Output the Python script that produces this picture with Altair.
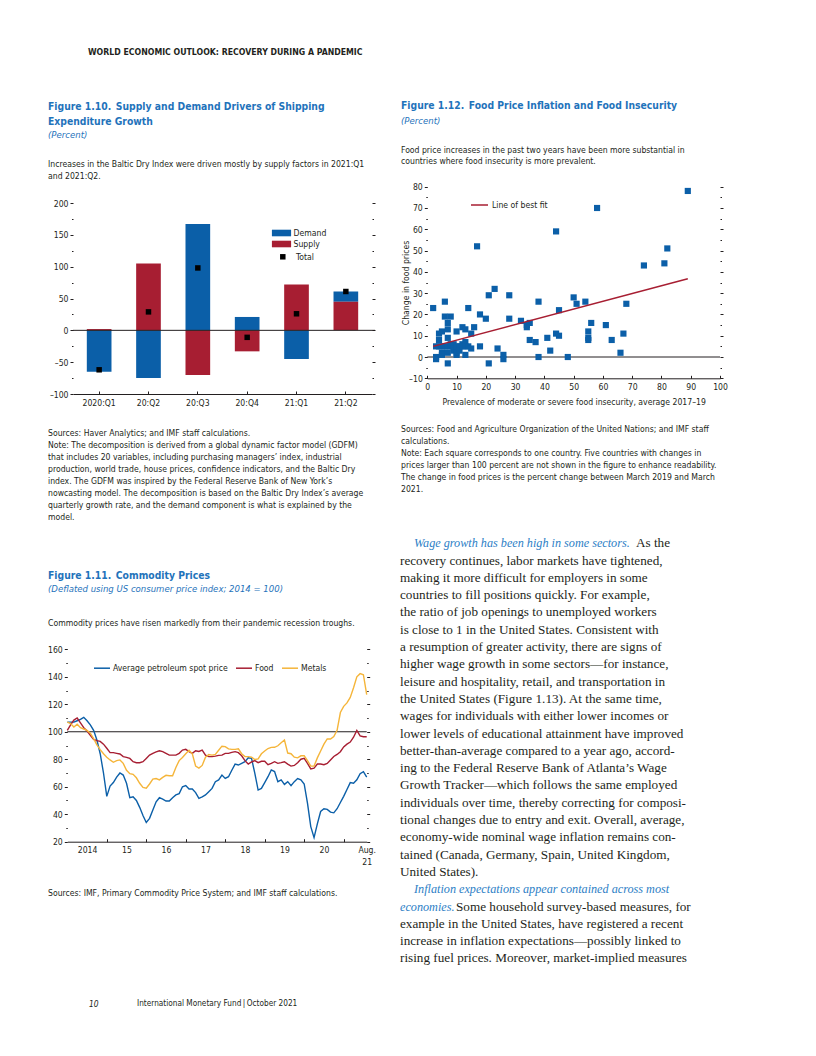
import altair as alt
import pandas as pd

W, H = 800, 1040
def cx(v): return v - 8
def cy(v): return v - 8

SANS = "'Liberation Sans Narrow', 'Arial Narrow', 'DejaVu Sans Condensed', sans-serif"
SERIF = "'Liberation Serif', 'Times New Roman', serif"
INK = "#231f20"
TBLUE = "#1f73bb"
IBLUE = "#2d80c6"
BLUE = "#0b5fa8"
RED = "#a71e32"
GOLD = "#f5b53a"
FS = 8.6   # chart text size

# ---------------- data ----------------
quarters = ["2020:Q1", "20:Q2", "20:Q3", "20:Q4", "21:Q1", "21:Q2"]
demand = [-65, -75, 167, 21, -45, 16]
supply = [2, 105, -70, -33, 72, 45]
total = [-62, 29, 98, -11, 26, 61]

insecurity = [2, 3, 3, 3, 4, 4, 4, 5, 5, 5, 5, 6, 6, 6, 7, 7, 7, 7, 7, 7, 8, 8, 8, 9, 9, 9,
              10, 10, 10, 10, 11, 11, 12, 12, 12, 13, 13, 13, 13, 14, 14, 15, 15, 16, 17, 18, 18,
              20, 21, 21, 23, 24, 26, 26, 28, 28, 32, 34, 34, 35, 35, 37, 38, 38, 41, 42, 44, 44,
              45, 45, 48, 50, 51, 54, 55, 55, 55, 56, 58, 61, 63, 66, 67, 68, 74, 81, 82, 89]
price_change = [23, 0, -1, 5, 11, 8, 5, 12, 2, 1, 5, 26, 19, 5, 16, 13, 9, 2, -3, 5, 19, 5, 6, 6, 4, 3,
                12, 1, 5, 2, 5, 3, 14, 6, 5, 13, 7, 1, 5, 23, 5, 11, 4, 14, 52, 20, 5,
                18, 29, -3, 32, 4, 1, -1, 29, 18, 17, 15, 14, 16, 8, 7, 26, 0, 9, 3, 59, 11,
                22, 10, 0, 28, 25, 26, 12, 9, 8, 16, 70, 15, 8, 2, 11, 25, 43, 44, 51, 78]
fit_x = [2, 89]
fit_y = [5.0, 36.8]

petroleum = [107, 107, 107, 108, 109, 110.5, 108, 105, 101, 94, 84, 70,
             53, 60.5, 63, 67, 70, 68.5, 62.5, 52, 52.7, 50, 45, 39,
             34, 37, 43, 49, 52, 51, 49.6, 49.6, 52, 54, 55, 60,
             60.8, 58.3, 58.3, 55.7, 51.5, 52.7, 54, 56.4, 58.8, 63.7, 65, 68.5,
             66, 67.3, 72, 76.5, 75.8, 77, 78.2, 81, 80.6, 69.7, 57.6, 58.8,
             63, 67.3, 72.2, 71, 63.7, 65, 61.7, 63.7, 60.8, 63.7, 66, 65,
             62, 48, 31, 23, 33, 42, 44, 43.5, 41.5, 41, 44, 48.5,
             53, 58, 63, 62.5, 65, 69.5, 71, 67]
food = [101, 105, 108.5, 110, 106.5, 103, 100.5, 97.5, 94.5, 93.5, 93, 91,
        88, 84.8, 84.8, 84.3, 83.8, 81.9, 81.4, 80.6, 78.2, 77.5, 77.5, 78.2,
        80.6, 83, 84.3, 85.3, 86.2, 85.5, 84.3, 83, 83, 83, 84.3, 86.7,
        87.2, 85.5, 84.3, 86.2, 85.7, 86.7, 83, 81.9, 81.9, 82.3, 82.8, 83,
        84.3, 84.3, 85, 85.5, 84.8, 82.5, 79, 76.5, 78, 79, 77.5, 78.5,
        78.5, 76, 77, 78.2, 77, 77.5, 78.2, 76.5, 75, 75.5, 77.5, 80,
        80.6, 77, 73, 73.5, 76.5, 76.5, 76, 77, 79.5, 82, 83.5, 85.5,
        89, 91, 92.5, 96, 101, 97, 96.4, 96.4]
metals = [107, 106, 103.5, 105.5, 103, 102, 101, 99, 95, 90.5, 87, 84,
          81.5, 79.5, 77.8, 79, 79.5, 77, 72, 69.5, 69, 66.5, 62.5, 59.5,
          59, 62, 65.5, 66, 65, 66.8, 68.3, 68, 68, 74, 79, 81.3,
          84, 86.5, 84, 75, 73.6, 75.5, 81.5, 83.4, 83, 83.5, 86.5, 89.5,
          89.2, 87.5, 87.2, 87.2, 87.6, 84, 82, 81.9, 81.5, 79.8, 80.3, 84,
          86, 87.8, 88.6, 88.7, 89.8, 92, 94, 84.5, 84, 81.5, 81, 82.5,
          82.6, 79, 75, 75, 81, 86, 91, 94.8, 94.7, 96.5, 101, 114,
          118.5, 121, 125, 132, 140, 142.3, 141.5, 127]
series_names = ["Average petroleum spot price", "Food", "Metals"]

# ---------------- frames ----------------
bars_df = pd.DataFrame({
    "q": quarters * 2,
    "series": ["Demand"] * 6 + ["Supply"] * 6,
    "v": demand + supply,
    "ord": [1] * 6 + [0] * 6,
})
tot_df = pd.DataFrame({"q": quarters, "total": total, "lab": ["Total"] * 6})
sc_df = pd.DataFrame({"fx": insecurity, "fy": price_change})
fit_df = pd.DataFrame({"fx": fit_x, "fy": fit_y, "lab": ["Line of best fit"] * 2})
t = [2014 + m / 12 for m in range(len(petroleum))]
cm_df = pd.DataFrame({
    "t": t * 3,
    "val": petroleum + food + metals,
    "s": [series_names[0]] * len(t) + [series_names[1]] * len(t) + [series_names[2]] * len(t),
})
ONE = pd.DataFrame({"k": [0]})

LAB = "datum.value < 0 ? '\u2013' + format(-datum.value, 'd') : format(datum.value, 'd')"


def y_axes(xl, xr, major, minor):
    common = dict(grid=False, domain=False, title=None, tickColor=INK, tickWidth=1)
    lm = alt.Axis(orient="left", offset=-cx(xl), values=major, tickSize=3, labelExpr=LAB,
                  labelFont=SANS, labelFontSize=FS, labelColor=INK, labelPadding=2, **common)
    ln = alt.Axis(orient="left", offset=-cx(xl), values=minor, tickSize=1.5, labels=False, **common)
    rm = alt.Axis(orient="right", offset=cx(xr) - W, values=major, tickSize=3, labels=False, **common)
    rn = alt.Axis(orient="right", offset=cx(xr) - W, values=minor, tickSize=1.5, labels=False, **common)
    return lm, ln, rm, rn


def x_axes(yb, label_vals, tick_vals, label_expr=None, title=None, title_pad=3):
    kw = dict(orient="bottom", offset=cy(yb) - H, values=label_vals, ticks=False, domain=True,
              domainColor=INK, domainWidth=1, grid=False, labelFont=SANS, labelFontSize=FS,
              labelColor=INK, labelPadding=4, labelAngle=0, labelFlush=False, labelLineHeight=12)
    if label_expr:
        kw["labelExpr"] = label_expr
    if title:
        kw.update(title=title, titleFont=SANS, titleFontSize=FS, titleFontWeight="normal",
                  titleColor=INK, titlePadding=title_pad)
    else:
        kw["title"] = None
    bottom = alt.Axis(**kw)
    top = alt.Axis(orient="top", offset=-cy(yb), values=tick_vals, ticks=True, tickSize=3,
                   tickColor=INK, tickWidth=1, domain=False, labels=False, grid=False, title=None)
    return bottom, top


def text_block(lines, x, y_first, size, font=SANS, color=INK, weight="normal", style="normal",
               lh=None, align="left", angle=None):
    if isinstance(lines, str):
        lines = [lines]
    lh = lh or size * 1.2
    props = dict(align=align, baseline="middle", font=font, fontSize=size, fontWeight=weight,
                 fontStyle=style, color=color, lineHeight=lh)
    if angle is not None:
        props["angle"] = angle
    val = lines if len(lines) > 1 else lines[0]
    return alt.Chart(ONE).mark_text(**props).encode(
        x=alt.value(cx(x)), y=alt.value(cy(y_first)), text=alt.value(val))


def leg_common():
    return dict(orient="none", title=None, labelFont=SANS, labelFontSize=FS, labelColor=INK,
                padding=0, offset=0)


def inv(df):
    return alt.Chart(df).mark_point(opacity=0)

# ---------------- Figure 1.10 ----------------
xs110 = alt.Scale(type="band", domain=quarters, range=[cx(73), cx(372)],
                  paddingInner=0.5, paddingOuter=0.28)
ys110 = alt.Scale(domain=[-100, 200], range=[cy(394), cy(203)], nice=False, zero=False)
lm, ln, rm, rn = y_axes(73, 372, [-100, -50, 0, 50, 100, 150, 200], [-75, -25, 25, 75, 125, 175])
bx, tx = x_axes(394, quarters, quarters)

fig110 = [
    alt.Chart(bars_df).mark_bar().encode(
        x=alt.X("q:N", scale=xs110, axis=bx, sort=quarters),
        y=alt.Y("v:Q", scale=ys110, axis=lm, stack="zero"),
        color=alt.Color("series:N", scale=alt.Scale(domain=["Demand", "Supply"], range=[BLUE, RED]),
                        legend=alt.Legend(legendX=cx(281.5) - 6, legendY=cy(233) - 6,
                                          symbolType="M-1.6,-0.55H1.6V0.55H-1.6Z", symbolSize=144,
                                          symbolStrokeWidth=0, labelOffset=6, rowPadding=0,
                                          **leg_common())),
        order=alt.Order("ord:Q", sort="ascending"),
    ),
    alt.Chart(ONE).mark_rule(color=INK, strokeWidth=1).encode(
        y=alt.YDatum(0, scale=ys110, axis=None), x=alt.value(cx(73)), x2=alt.value(cx(375))),
    alt.Chart(tot_df).mark_point(filled=True, size=30, color="black", opacity=1).encode(
        x=alt.X("q:N", scale=xs110, axis=None, sort=quarters),
        y=alt.Y("total:Q", scale=ys110, axis=None),
        shape=alt.Shape("lab:N", scale=alt.Scale(domain=["Total"], range=["square"]),
                        legend=alt.Legend(legendX=cx(281.5) - 3, legendY=cy(257) - 4.5,
                                          symbolSize=30, symbolFillColor="black",
                                          symbolStrokeColor="black", labelOffset=9,
                                          **leg_common())),
    ),
    inv(bars_df).encode(x=alt.X("q:N", scale=xs110, axis=tx, sort=quarters),
                        y=alt.Y("v:Q", scale=ys110, axis=rm)),
    inv(bars_df).encode(y=alt.Y("v:Q", scale=ys110, axis=ln)),
    inv(bars_df).encode(y=alt.Y("v:Q", scale=ys110, axis=rn)),
]

# ---------------- Figure 1.12 ----------------
xs112 = alt.Scale(domain=[0, 100], range=[cx(427.3), cx(720)], nice=False, zero=False)
ys112 = alt.Scale(domain=[-10, 80], range=[cy(378.3), cy(186.7)], nice=False, zero=False)
lm, ln, rm, rn = y_axes(427.3, 720, list(range(-10, 81, 10)), list(range(-5, 80, 10)))
bx, tx = x_axes(378.3, list(range(0, 101, 10)), list(range(0, 101, 10)),
                title="Prevalence of moderate or severe food insecurity, average 2017\u201319",
                title_pad=7)
fig112 = [
    alt.Chart(ONE).mark_rule(color=INK, strokeWidth=1).encode(
        y=alt.YDatum(0, scale=ys112, axis=None), x=alt.XDatum(0, scale=xs112, axis=None),
        x2=alt.X2Datum(100)),
    alt.Chart(sc_df).mark_square(size=38, color=BLUE, opacity=1).encode(
        x=alt.X("fx:Q", scale=xs112, axis=bx), y=alt.Y("fy:Q", scale=ys112, axis=lm)),
    alt.Chart(fit_df).mark_line(strokeWidth=1.5).encode(
        x=alt.X("fx:Q", scale=xs112, axis=None), y=alt.Y("fy:Q", scale=ys112, axis=None),
        color=alt.Color("lab:N", scale=alt.Scale(domain=["Line of best fit"], range=[RED]),
                        legend=alt.Legend(legendX=cx(470), legendY=cy(204) - 8.5,
                                          symbolType="stroke", symbolSize=289,
                                          symbolStrokeWidth=1.5, labelOffset=3, **leg_common()))),
    inv(sc_df).encode(x=alt.X("fx:Q", scale=xs112, axis=tx), y=alt.Y("fy:Q", scale=ys112, axis=rm)),
    inv(sc_df).encode(y=alt.Y("fy:Q", scale=ys112, axis=ln)),
    inv(sc_df).encode(y=alt.Y("fy:Q", scale=ys112, axis=rn)),
]

# ---------------- Figure 1.11 ----------------
xs111 = alt.Scale(domain=[2014, t[-1]], range=[cx(67.3), cx(366.7)], nice=False, zero=False)
ys111 = alt.Scale(domain=[20, 160], range=[cy(841.7), cy(649.3)], nice=False, zero=False)
lm, ln, rm, rn = y_axes(67.3, 366.7, list(range(20, 161, 20)), list(range(30, 160, 20)))
lab_vals = [y + 0.5 for y in range(2014, 2021)] + [t[-1]]
bx, tx = x_axes(841.7, lab_vals, list(range(2015, 2022)),
                label_expr="datum.value < 2015 ? '2014' : datum.value > 2021.2 ? ['Aug.', '21'] : format(floor(datum.value) - 2000, 'd')")
fig111 = [
    alt.Chart(ONE).mark_rule(color=INK, strokeWidth=1).encode(
        y=alt.YDatum(100, scale=ys111, axis=None), x=alt.XDatum(2014, scale=xs111, axis=None),
        x2=alt.X2Datum(t[-1])),
    alt.Chart(cm_df).mark_line(strokeWidth=1.4).encode(
        x=alt.X("t:Q", scale=xs111, axis=bx),
        y=alt.Y("val:Q", scale=ys111, axis=lm),
        color=alt.Color("s:N", scale=alt.Scale(domain=series_names, range=[BLUE, RED, GOLD]),
                        legend=alt.Legend(legendX=cx(93), legendY=cy(667) - 8,
                                          direction="horizontal", symbolType="stroke",
                                          symbolSize=256, symbolStrokeWidth=1.5, labelOffset=2,
                                          columnPadding=5, **leg_common())),
        order="t:Q",
    ),
    inv(cm_df).encode(x=alt.X("t:Q", scale=xs111, axis=tx), y=alt.Y("val:Q", scale=ys111, axis=rm)),
    inv(cm_df).encode(y=alt.Y("val:Q", scale=ys111, axis=ln)),
    inv(cm_df).encode(y=alt.Y("val:Q", scale=ys111, axis=rn)),
]

# ---------------- page text ----------------
TS = 10.3   # figure title size
texts = [
    text_block("WORLD ECONOMIC OUTLOOK: RECOVERY DURING A PANDEMIC", 88, 51.5, 8.7, weight="bold"),
    text_block(["Figure 1.10.\u2002Supply and Demand Drivers of Shipping", "Expenditure Growth"],
               48, 106.5, TS, color=TBLUE, weight="bold", lh=15.8),
    text_block("(Percent)", 48, 135, 9.5, color=TBLUE, style="italic"),
    text_block(["Increases in the Baltic Dry Index were driven mostly by supply factors in 2021:Q1",
                "and 2021:Q2."], 48, 163.5, FS, lh=12),
    text_block(["Sources: Haver Analytics; and IMF staff calculations.",
                "Note: The decomposition is derived from a global dynamic factor model (GDFM)",
                "that includes 20 variables, including purchasing managers\u2019 index, industrial",
                "production, world trade, house prices, confidence indicators, and the Baltic Dry",
                "index. The GDFM was inspired by the Federal Reserve Bank of New York\u2019s",
                "nowcasting model. The decomposition is based on the Baltic Dry Index\u2019s average",
                "quarterly growth rate, and the demand component is what is explained by the",
                "model."], 48, 433, FS, lh=11.96),
    text_block("Figure 1.11.\u2002Commodity Prices", 48, 575.7, TS, color=TBLUE, weight="bold"),
    text_block("(Deflated using US consumer price index; 2014 = 100)", 48, 589.3, 9.5,
               color=TBLUE, style="italic"),
    text_block("Commodity prices have risen markedly from their pandemic recession troughs.",
               48, 623.3, FS),
    text_block("Sources: IMF, Primary Commodity Price System; and IMF staff calculations.",
               48, 892.7, FS),
    text_block("10", 89, 1004, 8.4, style="italic"),
    text_block("International Monetary Fund\u2009|\u2009October 2021", 137, 1004, 8.2),
    text_block("Figure 1.12.\u2002Food Price Inflation and Food Insecurity", 401, 106, TS,
               color=TBLUE, weight="bold"),
    text_block("(Percent)", 401, 120.7, 9.5, color=TBLUE, style="italic"),
    text_block(["Food price increases in the past two years have been more substantial in",
                "countries where food insecurity is more prevalent."], 401, 150, FS, lh=11),
    text_block(["Sources: Food and Agriculture Organization of the United Nations; and IMF staff",
                "calculations.",
                "Note: Each square corresponds to one country. Five countries with changes in",
                "prices larger than 100 percent are not shown in the figure to enhance readability.",
                "The change in food prices is the percent change between March 2019 and March",
                "2021."], 401, 429.3, FS, lh=12),
    text_block("Change in food prices", 406, 283, FS, align="center", angle=270),
]

BL0, BLH = 543.3, 17.3
def by(k): return BL0 + BLH * (k - 1)

body_a = ["recovery continues, labor markets have tightened,",
          "making it more difficult for employers in some",
          "countries to fill positions quickly. For example,",
          "the ratio of job openings to unemployed workers",
          "is close to 1 in the United States. Consistent with",
          "a resumption of greater activity, there are signs of",
          "higher wage growth in some sectors\u2014for instance,",
          "leisure and hospitality, retail, and transportation in",
          "the United States (Figure 1.13). At the same time,",
          "wages for individuals with either lower incomes or",
          "lower levels of educational attainment have improved",
          "better-than-average compared to a year ago, accord-",
          "ing to the Federal Reserve Bank of Atlanta\u2019s Wage",
          "Growth Tracker\u2014which follows the same employed",
          "individuals over time, thereby correcting for composi-",
          "tional changes due to entry and exit. Overall, average,",
          "economy-wide nominal wage inflation remains con-",
          "tained (Canada, Germany, Spain, United Kingdom,",
          "United States)."]
body_b = ["example in the United States, have registered a recent",
          "increase in inflation expectations\u2014possibly linked to",
          "rising fuel prices. Moreover, market-implied measures"]
BS, BI = 13.2, 12.2
texts += [
    text_block("Wage growth has been high in some sectors.", 414, by(1), BI, font=SERIF,
               color=IBLUE, style="italic"),
    text_block("As the", 636, by(1), BS, font=SERIF),
    text_block(body_a, 400, by(2), BS, font=SERIF, lh=BLH),
    text_block("Inflation expectations appear contained across most", 414, by(21), BI,
               font=SERIF, color=IBLUE, style="italic"),
    text_block("economies.", 400, by(22), BI, font=SERIF, color=IBLUE, style="italic"),
    text_block("Some household survey-based measures, for", 456, by(22), BS, font=SERIF),
    text_block(body_b, 400, by(23), BS, font=SERIF, lh=BLH),
]

chart = alt.layer(*fig110, *fig112, *fig111, *texts).resolve_scale(
    x="independent", y="independent", color="independent", shape="independent"
).properties(width=W, height=H, padding=0).configure_view(stroke=None)

chart.save("out.html", embed_options={"renderer": "svg", "actions": False})
